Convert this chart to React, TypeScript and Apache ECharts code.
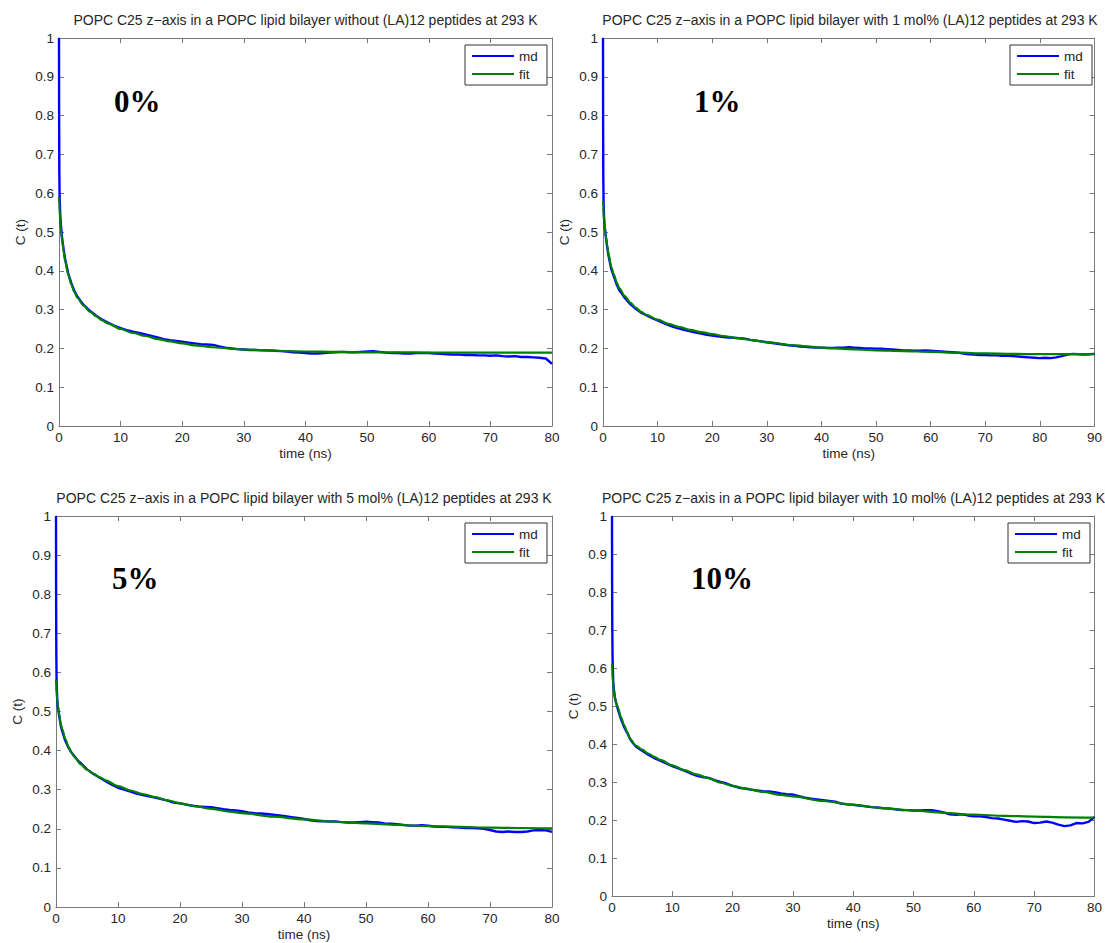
import React, { useEffect, useRef } from "react";
import * as echarts from "echarts";

// ---- data ----
const titles = [
  "POPC C25 z\u2212axis in a POPC lipid bilayer without (LA)12 peptides at 293 K",
  "POPC C25 z\u2212axis in a POPC lipid bilayer with 1 mol% (LA)12 peptides at 293 K",
  "POPC C25 z\u2212axis in a POPC lipid bilayer with 5 mol% (LA)12 peptides at 293 K",
  "POPC C25 z\u2212axis in a POPC lipid bilayer with 10 mol% (LA)12 peptides at 293 K",
];
const percentLabels = ["0%", "1%", "5%", "10%"];
const xMaxes = [80, 90, 80, 80];
const yTicks = [0, 0.1, 0.2, 0.3, 0.4, 0.5, 0.6, 0.7, 0.8, 0.9, 1];
const legendNames = ["md", "fit"];

const mdT80 = [
  0, 0.02, 0.05, 0.1, 0.2, 0.3, 0.5, 0.75, 1, 1.5, 2, 2.5, 3, 3.5, 4, 5, 6, 7, 8, 9,
  10, 11, 12, 13, 14, 15, 16, 17, 18, 19, 20, 21, 22, 23, 24, 25, 26, 27, 28, 29,
  30, 31, 32, 33, 34, 35, 36, 37, 38, 39, 40, 41, 42, 43, 44, 45, 46, 47, 48, 49,
  50, 51, 52, 53, 54, 55, 56, 57, 58, 59, 60, 61, 62, 63, 64, 65, 66, 67, 68, 69,
  70, 71, 72, 73, 74, 75, 76, 77, 78, 79, 80,
];
const mdT90 = [...mdT80, 81, 82, 83, 84, 85, 86, 87, 88, 89, 90];

const md0 = [
  1.0, 0.8, 0.66, 0.59, 0.545, 0.52, 0.485, 0.455, 0.43, 0.393, 0.368, 0.348, 0.333, 0.322, 0.312, 0.297, 0.285, 0.274, 0.266, 0.258,
  0.252, 0.247, 0.243, 0.24, 0.236, 0.232, 0.228, 0.224, 0.221, 0.219,
  0.217, 0.215, 0.213, 0.211, 0.21, 0.209, 0.205, 0.202, 0.2, 0.198,
  0.197, 0.196, 0.196, 0.195, 0.195, 0.194, 0.193, 0.192, 0.19, 0.189,
  0.188, 0.187, 0.187, 0.188, 0.189, 0.19, 0.191, 0.19, 0.19, 0.191,
  0.192, 0.193, 0.191, 0.189, 0.188, 0.188, 0.187, 0.187, 0.188, 0.188,
  0.188, 0.187, 0.186, 0.185, 0.184, 0.184, 0.183, 0.183, 0.182, 0.182,
  0.181, 0.182, 0.18, 0.179, 0.18, 0.178, 0.178, 0.177, 0.176, 0.174,
  0.16,
];
const md1 = [
  1.0, 0.8, 0.65, 0.58, 0.535, 0.515, 0.49, 0.463, 0.44, 0.405, 0.385, 0.365, 0.35, 0.34, 0.33, 0.314, 0.302, 0.292, 0.285, 0.278,
  0.272, 0.266, 0.26, 0.255, 0.251, 0.247, 0.244, 0.241, 0.238, 0.235,
  0.233, 0.231, 0.229, 0.228, 0.227, 0.226, 0.225, 0.222, 0.22, 0.218,
  0.216, 0.214, 0.212, 0.21, 0.208, 0.207, 0.205, 0.204, 0.203, 0.202,
  0.202, 0.201, 0.201, 0.202, 0.202, 0.203, 0.202, 0.201, 0.2, 0.2,
  0.199, 0.199, 0.198, 0.197, 0.196, 0.195, 0.195, 0.194, 0.194, 0.195,
  0.194, 0.193, 0.192, 0.191, 0.19, 0.189, 0.187, 0.185, 0.184, 0.183,
  0.183, 0.182, 0.182, 0.181, 0.181, 0.18, 0.179, 0.178, 0.177, 0.176,
  0.175, 0.176, 0.175, 0.177, 0.18, 0.184, 0.186, 0.185, 0.184, 0.185,
  0.186,
];
const md5 = [
  1.0, 0.78, 0.65, 0.57, 0.53, 0.51, 0.49, 0.465, 0.45, 0.425, 0.408, 0.395, 0.385, 0.375, 0.368, 0.352, 0.341, 0.331, 0.322, 0.313,
  0.305, 0.3, 0.295, 0.29, 0.286, 0.283, 0.28, 0.276, 0.272, 0.267,
  0.265, 0.262, 0.259, 0.257, 0.256, 0.255, 0.253, 0.25, 0.248, 0.247,
  0.245, 0.242, 0.24, 0.239, 0.238, 0.236, 0.234, 0.232, 0.23, 0.228,
  0.225, 0.222, 0.22, 0.219, 0.219, 0.219, 0.217, 0.216, 0.216, 0.217,
  0.218, 0.217, 0.216, 0.214, 0.213, 0.212, 0.21, 0.208, 0.208, 0.209,
  0.208, 0.206, 0.205, 0.205, 0.204, 0.203, 0.202, 0.202, 0.201, 0.2,
  0.197, 0.193, 0.192, 0.193, 0.192, 0.192, 0.193, 0.196, 0.197, 0.196,
  0.192,
];
const md10 = [
  1.0, 0.82, 0.7, 0.62, 0.565, 0.545, 0.52, 0.505, 0.49, 0.465, 0.445, 0.43, 0.413, 0.402, 0.393, 0.382, 0.372, 0.363, 0.356, 0.349,
  0.342, 0.336, 0.33, 0.323, 0.317, 0.313, 0.311, 0.305, 0.3, 0.296,
  0.29, 0.285, 0.283, 0.28, 0.278, 0.276, 0.275, 0.273, 0.27, 0.268,
  0.267, 0.263, 0.259, 0.256, 0.254, 0.252, 0.25, 0.248, 0.243, 0.241,
  0.24, 0.238, 0.236, 0.234, 0.233, 0.231, 0.23, 0.228, 0.226, 0.226,
  0.225, 0.225, 0.226, 0.226, 0.223, 0.22, 0.215, 0.214, 0.215, 0.212,
  0.21, 0.21, 0.208, 0.205, 0.204, 0.201, 0.198, 0.195, 0.197, 0.196,
  0.192, 0.193, 0.196, 0.193, 0.188, 0.184, 0.186, 0.192, 0.191, 0.195,
  0.208,
];

const fitT80 = [
  0, 0.05, 0.1, 0.2, 0.3, 0.5, 0.75, 1, 1.5, 2, 2.5, 3, 4, 5, 6, 7, 8, 10, 12, 14,
  16, 18, 20, 22, 25, 28, 30, 35, 40, 45, 50, 55, 60, 65, 70, 75, 80,
];
const fitT90 = [...fitT80, 85, 90];

const fit0 = [
  0.59, 0.57, 0.555, 0.53, 0.51, 0.48, 0.45, 0.425, 0.39, 0.365, 0.345, 0.33, 0.31, 0.295, 0.283, 0.272, 0.264, 0.25, 0.24, 0.232,
  0.224, 0.218, 0.213, 0.208, 0.203, 0.199, 0.197, 0.194, 0.192, 0.191, 0.19, 0.19, 0.189, 0.189, 0.189, 0.189, 0.189,
];
const fit1 = [
  0.58, 0.565, 0.55, 0.53, 0.515, 0.49, 0.465, 0.445, 0.41, 0.39, 0.37, 0.355, 0.335, 0.318, 0.305, 0.294, 0.286, 0.274, 0.263, 0.255,
  0.248, 0.242, 0.237, 0.232, 0.226, 0.22, 0.216, 0.208, 0.202, 0.198, 0.195, 0.193, 0.191, 0.189, 0.187, 0.186, 0.185, 0.185, 0.185,
];
const fit5 = [
  0.58, 0.565, 0.55, 0.53, 0.515, 0.495, 0.47, 0.455, 0.43, 0.41, 0.395, 0.383, 0.365, 0.351, 0.341, 0.332, 0.324, 0.309, 0.298, 0.289,
  0.281, 0.273, 0.265, 0.259, 0.251, 0.244, 0.24, 0.231, 0.224, 0.218, 0.214, 0.21, 0.207, 0.205, 0.203, 0.202, 0.201,
];
const fit10 = [
  0.61, 0.59, 0.575, 0.555, 0.54, 0.52, 0.505, 0.495, 0.47, 0.45, 0.432, 0.413, 0.395, 0.385, 0.375, 0.366, 0.358, 0.344, 0.331, 0.32,
  0.31, 0.298, 0.29, 0.283, 0.274, 0.266, 0.262, 0.25, 0.24, 0.231, 0.225, 0.219, 0.214, 0.211, 0.209, 0.207, 0.206,
];

const mdTimes = [mdT80, mdT90, mdT80, mdT80];
const mdValues = [md0, md1, md5, md10];
const fitTimes = [fitT80, fitT90, fitT80, fitT80];
const fitValues = [fit0, fit1, fit5, fit10];

// ---- layout / style ----
const grids = [
  { left: 59, top: 38, width: 493, height: 388 },
  { left: 603, top: 38, width: 494, height: 388 },
  { left: 56, top: 516, width: 496, height: 391 },
  { left: 612, top: 516, width: 483, height: 380 },
];
const pctPos = [
  [114, 101],
  [694, 101],
  [112, 578],
  [691, 578],
];
const FONT = '"Liberation Sans", Arial, Helvetica, sans-serif';
const AX = "#7a7a7a";
const TXT = "#262626";
const BLUE = "#0000ff";
const GREEN = "#008000";
const FS = 13.5;

function pairs(t: number[], v: number[]) {
  return t.map((x, i) => [x, v[i]]);
}

function buildOption() {
  const xAxis: any[] = [];
  const yAxis: any[] = [];
  const series: any[] = [];
  const graphic: any[] = [];
  const yFmt = (v: number) => String(Math.round(v * 10) / 10);

  grids.forEach((g, i) => {
    const common = {
      gridIndex: i,
      type: "value",
      splitLine: { show: false },
      axisLine: { show: true, onZero: false, lineStyle: { color: AX, width: 1 } },
      axisTick: { show: true, inside: true, length: 5, lineStyle: { color: AX, width: 1 } },
    };
    xAxis.push({
      ...common,
      position: "bottom",
      min: 0,
      max: xMaxes[i],
      interval: 10,
      axisLabel: { color: TXT, fontSize: FS, fontFamily: FONT, margin: 4 },
      name: "time (ns)",
      nameLocation: "middle",
      nameGap: 20,
      nameTextStyle: { color: TXT, fontSize: FS, fontFamily: FONT },
    });
    xAxis.push({
      ...common,
      position: "top",
      min: 0,
      max: xMaxes[i],
      interval: 10,
      axisLabel: { show: false },
    });
    yAxis.push({
      ...common,
      position: "left",
      min: yTicks[0],
      max: yTicks[yTicks.length - 1],
      interval: 0.1,
      axisLabel: { color: TXT, fontSize: FS, fontFamily: FONT, margin: 5, formatter: yFmt },
      name: "C (t)",
      nameLocation: "middle",
      nameGap: 32,
      nameRotate: 90,
      nameTextStyle: { color: TXT, fontSize: FS, fontFamily: FONT },
    });
    yAxis.push({
      ...common,
      position: "right",
      min: yTicks[0],
      max: yTicks[yTicks.length - 1],
      interval: 0.1,
      axisLabel: { show: false },
    });

    series.push({
      type: "line",
      name: legendNames[0],
      xAxisIndex: 2 * i,
      yAxisIndex: 2 * i,
      data: pairs(mdTimes[i], mdValues[i]),
      showSymbol: false,
      symbol: "none",
      lineStyle: { color: BLUE, width: 2.4 },
      itemStyle: { color: BLUE },
      z: 2,
    });
    series.push({
      type: "line",
      name: legendNames[1],
      xAxisIndex: 2 * i,
      yAxisIndex: 2 * i,
      data: pairs(fitTimes[i], fitValues[i]),
      showSymbol: false,
      symbol: "none",
      smooth: 0.3,
      smoothMonotone: "x",
      lineStyle: { color: GREEN, width: 2.2 },
      itemStyle: { color: GREEN },
      z: 3,
    });

    // title
    graphic.push({
      type: "text",
      x: g.left + g.width / 2,
      y: g.top - 18,
      style: {
        text: titles[i],
        fill: TXT,
        font: `14px ${FONT}`,
        textAlign: "center",
        textVerticalAlign: "middle",
      },
    });
    // percent label
    graphic.push({
      type: "text",
      x: pctPos[i][0],
      y: pctPos[i][1],
      style: {
        text: percentLabels[i],
        fill: "#000",
        font: `bold 31px "Liberation Serif", "Times New Roman", serif`,
        textAlign: "left",
        textVerticalAlign: "middle",
      },
    });
    // legend
    const lw = 82;
    const lh = 40;
    const lx = g.left + g.width - 5 - lw;
    const ly = g.top + 7;
    graphic.push({
      type: "rect",
      shape: { x: lx, y: ly, width: lw, height: lh },
      style: { fill: "#fff", stroke: "#333", lineWidth: 1 },
      z: 10,
    });
    [BLUE, GREEN].forEach((c, k) => {
      const yy = ly + 11 + k * 18;
      graphic.push({
        type: "line",
        shape: { x1: lx + 7, y1: yy, x2: lx + 49, y2: yy },
        style: { stroke: c, lineWidth: 2.2 },
        z: 11,
      });
      graphic.push({
        type: "text",
        x: lx + 54,
        y: yy,
        style: {
          text: legendNames[k],
          fill: TXT,
          font: `${FS}px ${FONT}`,
          textAlign: "left",
          textVerticalAlign: "middle",
        },
        z: 11,
      });
    });
  });

  return {
    animation: false,
    backgroundColor: "#fff",
    grid: grids.map((g) => ({ ...g, containLabel: false })),
    xAxis,
    yAxis,
    series,
    graphic,
  };
}

export default function App() {
  const ref = useRef<HTMLDivElement>(null);
  useEffect(() => {
    if (!ref.current) return;
    const chart = echarts.init(ref.current, undefined, { renderer: "svg" });
    chart.setOption(buildOption() as any);
    return () => chart.dispose();
  }, []);
  return (
    <div
      ref={ref}
      style={{ position: "fixed", left: 0, top: 0, width: 1105, height: 943, background: "#fff" }}
    />
  );
}
